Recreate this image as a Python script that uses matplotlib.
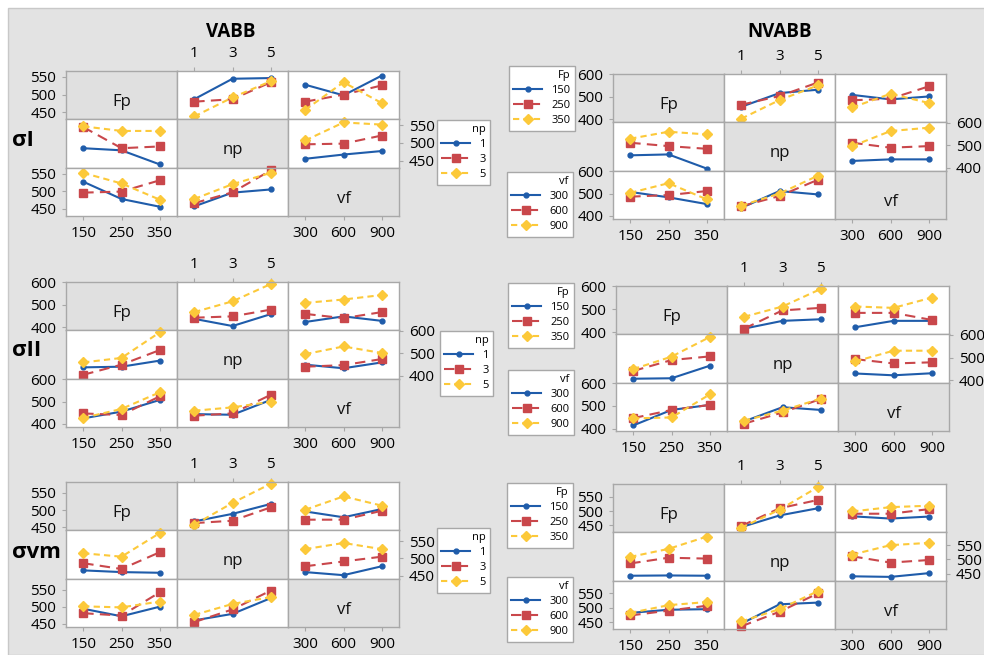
import matplotlib.pyplot as plt
from matplotlib.lines import Line2D
from matplotlib.patches import Rectangle

W, H = 984, 655
CW, CH = 111, 48.3

FACTORS = ["Fp", "np", "vf"]
fp_levels = [150, 250, 350]
np_levels = [1, 3, 5]
vf_levels = [300, 600, 900]
fp_labels = ["150", "250", "350"]
np_labels = ["1", "3", "5"]
vf_labels = ["300", "600", "900"]

# each list: one row per level of the line factor, values at the x-factor levels
# VABB, sigma I
vabb_s1_fp_np = [[487, 545, 547], [480, 487, 535], [438, 492, 538]]
vabb_s1_fp_vf = [[528, 498, 554], [480, 500, 526], [457, 535, 476]]
vabb_s1_np_fp = [[485, 479, 439], [545, 485, 490], [547, 534, 534]]
vabb_s1_np_vf = [[455, 467, 477], [496, 498, 521], [507, 558, 552]]
vabb_s1_vf_fp = [[527, 478, 456], [496, 499, 531], [552, 522, 476]]
vabb_s1_vf_np = [[457, 496, 505], [466, 497, 559], [478, 520, 552]]
# NVABB, sigma I
nvabb_s1_fp_np = [[456, 517, 532], [465, 504, 564], [403, 486, 551]]
nvabb_s1_fp_vf = [[509, 489, 502], [485, 492, 547], [453, 514, 473]]
nvabb_s1_np_fp = [[455, 459, 396], [511, 496, 484], [529, 560, 548]]
nvabb_s1_np_vf = [[430, 437, 437], [511, 489, 496], [496, 563, 578]]
nvabb_s1_vf_fp = [[507, 483, 453], [486, 493, 511], [503, 546, 474]]
nvabb_s1_vf_np = [[436, 511, 496], [443, 489, 561], [446, 500, 579]]
# VABB, sigma II
vabb_s2_fp_np = [[438, 406, 459], [443, 449, 479], [468, 516, 593]]
vabb_s2_fp_vf = [[424, 449, 429], [460, 441, 468], [509, 524, 544]]
vabb_s2_np_fp = [[437, 440, 467], [404, 449, 514], [459, 479, 593]]
vabb_s2_np_vf = [[449, 433, 459], [440, 447, 474], [496, 530, 501]]
vabb_s2_vf_fp = [[425, 455, 507], [447, 440, 523], [427, 467, 541]]
vabb_s2_vf_np = [[444, 441, 507], [437, 447, 530], [459, 474, 499]]
# NVABB, sigma II
nvabb_s2_fp_np = [[415, 449, 456], [415, 495, 506], [467, 512, 589]]
nvabb_s2_fp_vf = [[421, 449, 449], [484, 484, 453], [512, 506, 551]]
nvabb_s2_np_fp = [[407, 409, 464], [441, 489, 505], [449, 504, 590]]
nvabb_s2_np_vf = [[430, 422, 431], [493, 474, 479], [483, 530, 530]]
nvabb_s2_vf_fp = [[414, 482, 504], [446, 482, 504], [445, 449, 550]]
nvabb_s2_vf_np = [[432, 494, 482], [422, 471, 530], [435, 479, 532]]
# VABB, sigma vm
vabb_vm_fp_np = [[467, 489, 518], [462, 469, 508], [457, 521, 577]]
vabb_vm_fp_vf = [[496, 479, 503], [472, 472, 498], [501, 540, 513]]
vabb_vm_np_fp = [[465, 460, 458], [486, 469, 518], [515, 505, 574]]
vabb_vm_np_vf = [[460, 451, 477], [477, 491, 505], [527, 545, 527]]
vabb_vm_vf_fp = [[494, 472, 500], [481, 474, 542], [501, 498, 515]]
vabb_vm_vf_np = [[460, 479, 525], [455, 492, 547], [476, 508, 528]]
# NVABB, sigma vm
nvabb_vm_fp_np = [[444, 485, 510], [448, 510, 539], [442, 505, 584]]
nvabb_vm_fp_vf = [[482, 474, 481], [491, 491, 507], [499, 514, 519]]
nvabb_vm_np_fp = [[443, 444, 443], [486, 506, 503], [509, 537, 580]]
nvabb_vm_np_vf = [[441, 439, 452], [511, 489, 498], [517, 550, 558]]
nvabb_vm_vf_fp = [[482, 493, 495], [473, 490, 507], [482, 509, 520]]
nvabb_vm_vf_np = [[444, 512, 518], [435, 486, 550], [452, 495, 558]]

BG = "#e3e3e3"
DIAG = "#e0e0e0"
EDGE = "#a8a8a8"
STYLES = [
    dict(color="#1f5caa", ls="-", lw=1.5, marker="o", ms=3.5),
    dict(color="#c9474b", ls=(0, (5, 3)), lw=1.5, marker="s", ms=5.5),
    dict(color="#fcc93a", ls=(0, (3, 2)), lw=1.5, marker="D", ms=5),
]

plt.rcParams["font.family"] = ["Open Sans", "DejaVu Sans"]


def px_axes(fig, x, y, w, h):
    return fig.add_axes([x / W, 1 - (y + h) / H, w / W, h / H])


def draw_block(fig, left, top, panels, ylim, yticks):
    levels = [fp_levels, np_levels, vf_levels]
    labels = [fp_labels, np_labels, vf_labels]
    for i in range(3):
        for j in range(3):
            ax = px_axes(fig, left + j * CW, top + i * CH, CW, CH)
            span = levels[j][-1] - levels[j][0]
            ax.set_xlim(levels[j][0] - 0.225 * span, levels[j][-1] + 0.225 * span)
            ax.set_ylim(*ylim)
            ax.set_xticks([])
            ax.set_yticks([])
            for s in ax.spines.values():
                s.set_color(EDGE)
                s.set_linewidth(1)
            if i == j:
                ax.set_facecolor(DIAG)
                ax.text(0.5, 0.36, FACTORS[i], transform=ax.transAxes,
                        ha="center", va="center", fontsize=12, color="#111111")
            else:
                ax.set_facecolor("white")
                for k, ys in enumerate(panels[(i, j)]):
                    ax.plot(levels[j], ys, clip_on=False, **STYLES[k])
            if j == 0 and i in (0, 2):
                ax.set_yticks(yticks)
            if i == 1 and j == 2:
                ax.yaxis.tick_right()
                ax.set_yticks(yticks)
            if i == 0 and j == 1:
                ax.xaxis.tick_top()
                ax.set_xticks(levels[j], labels[j])
            if i == 2 and j in (0, 2):
                ax.set_xticks(levels[j], labels[j])
            ax.tick_params(direction="out", length=3, color=EDGE, labelsize=11,
                           pad=4, labelcolor="#000000")


def add_legend(fig, x, y, title, labels):
    handles = [Line2D([], [], **STYLES[k]) for k in range(3)]
    leg = fig.legend(handles, labels, title=title, loc="upper left",
                     bbox_to_anchor=(x / W, 1 - y / H), bbox_transform=fig.transFigure,
                     fontsize=8, title_fontsize=8, alignment="right", frameon=True,
                     fancybox=False, edgecolor=EDGE, framealpha=1,
                     handlelength=2.6, borderpad=0.4, labelspacing=0.35,
                     handletextpad=0.8, borderaxespad=0)
    leg.get_frame().set_linewidth(1)


def panel_map(fp_np, fp_vf, np_fp, np_vf, vf_fp, vf_np):
    return {(0, 1): fp_np, (0, 2): fp_vf, (1, 0): np_fp,
            (1, 2): np_vf, (2, 0): vf_fp, (2, 1): vf_np}


def main():
    fig = plt.figure(figsize=(W / 100, H / 100), dpi=100)
    fig.patch.set_facecolor("white")
    fig.add_artist(Rectangle((8 / W, 0), 1, 1 - 8 / H, transform=fig.transFigure,
                             facecolor=BG, edgecolor="#c8c8c8", lw=1, zorder=-5))

    fig.text(231 / W, 1 - 32 / H, "VABB", ha="center", va="center",
             fontsize=13.5, fontweight="bold")
    fig.text(780 / W, 1 - 32 / H, "NVABB", ha="center", va="center",
             fontsize=13.5, fontweight="bold")

    draw_block(fig, 66, 71, panel_map(vabb_s1_fp_np, vabb_s1_fp_vf, vabb_s1_np_fp,
                                      vabb_s1_np_vf, vabb_s1_vf_fp, vabb_s1_vf_np),
               (430, 567), [450, 500, 550])
    draw_block(fig, 613, 74, panel_map(nvabb_s1_fp_np, nvabb_s1_fp_vf, nvabb_s1_np_fp,
                                       nvabb_s1_np_vf, nvabb_s1_vf_fp, nvabb_s1_vf_np),
               (387, 602), [400, 500, 600])
    draw_block(fig, 66, 282, panel_map(vabb_s2_fp_np, vabb_s2_fp_vf, vabb_s2_np_fp,
                                       vabb_s2_np_vf, vabb_s2_vf_fp, vabb_s2_vf_np),
               (387, 602), [400, 500, 600])
    draw_block(fig, 616, 286, panel_map(nvabb_s2_fp_np, nvabb_s2_fp_vf, nvabb_s2_np_fp,
                                        nvabb_s2_np_vf, nvabb_s2_vf_fp, nvabb_s2_vf_np),
               (390, 602), [400, 500, 600])
    draw_block(fig, 66, 482, panel_map(vabb_vm_fp_np, vabb_vm_fp_vf, vabb_vm_np_fp,
                                       vabb_vm_np_vf, vabb_vm_vf_fp, vabb_vm_vf_np),
               (441, 582), [450, 500, 550])
    draw_block(fig, 613, 484, panel_map(nvabb_vm_fp_np, nvabb_vm_fp_vf, nvabb_vm_np_fp,
                                        nvabb_vm_np_vf, nvabb_vm_vf_fp, nvabb_vm_vf_np),
               (426, 595), [450, 500, 550])

    for y, lab in [(140, "σI"), (351, "σII"), (552, "σvm")]:
        fig.text(12 / W, 1 - y / H, lab, ha="left", va="center",
                 fontsize=16, fontweight="bold")

    add_legend(fig, 437, 120, "np", np_labels)
    add_legend(fig, 440, 331, "np", np_labels)
    add_legend(fig, 437, 528, "np", np_labels)
    add_legend(fig, 509, 66, "Fp", fp_labels)
    add_legend(fig, 507, 172, "vf", vf_labels)
    add_legend(fig, 508, 283, "Fp", fp_labels)
    add_legend(fig, 508, 370, "vf", vf_labels)
    add_legend(fig, 507, 483, "Fp", fp_labels)
    add_legend(fig, 507, 577, "vf", vf_labels)

    fig.savefig("out.png", dpi=100)
    plt.close(fig)


if __name__ == "__main__":
    main()
